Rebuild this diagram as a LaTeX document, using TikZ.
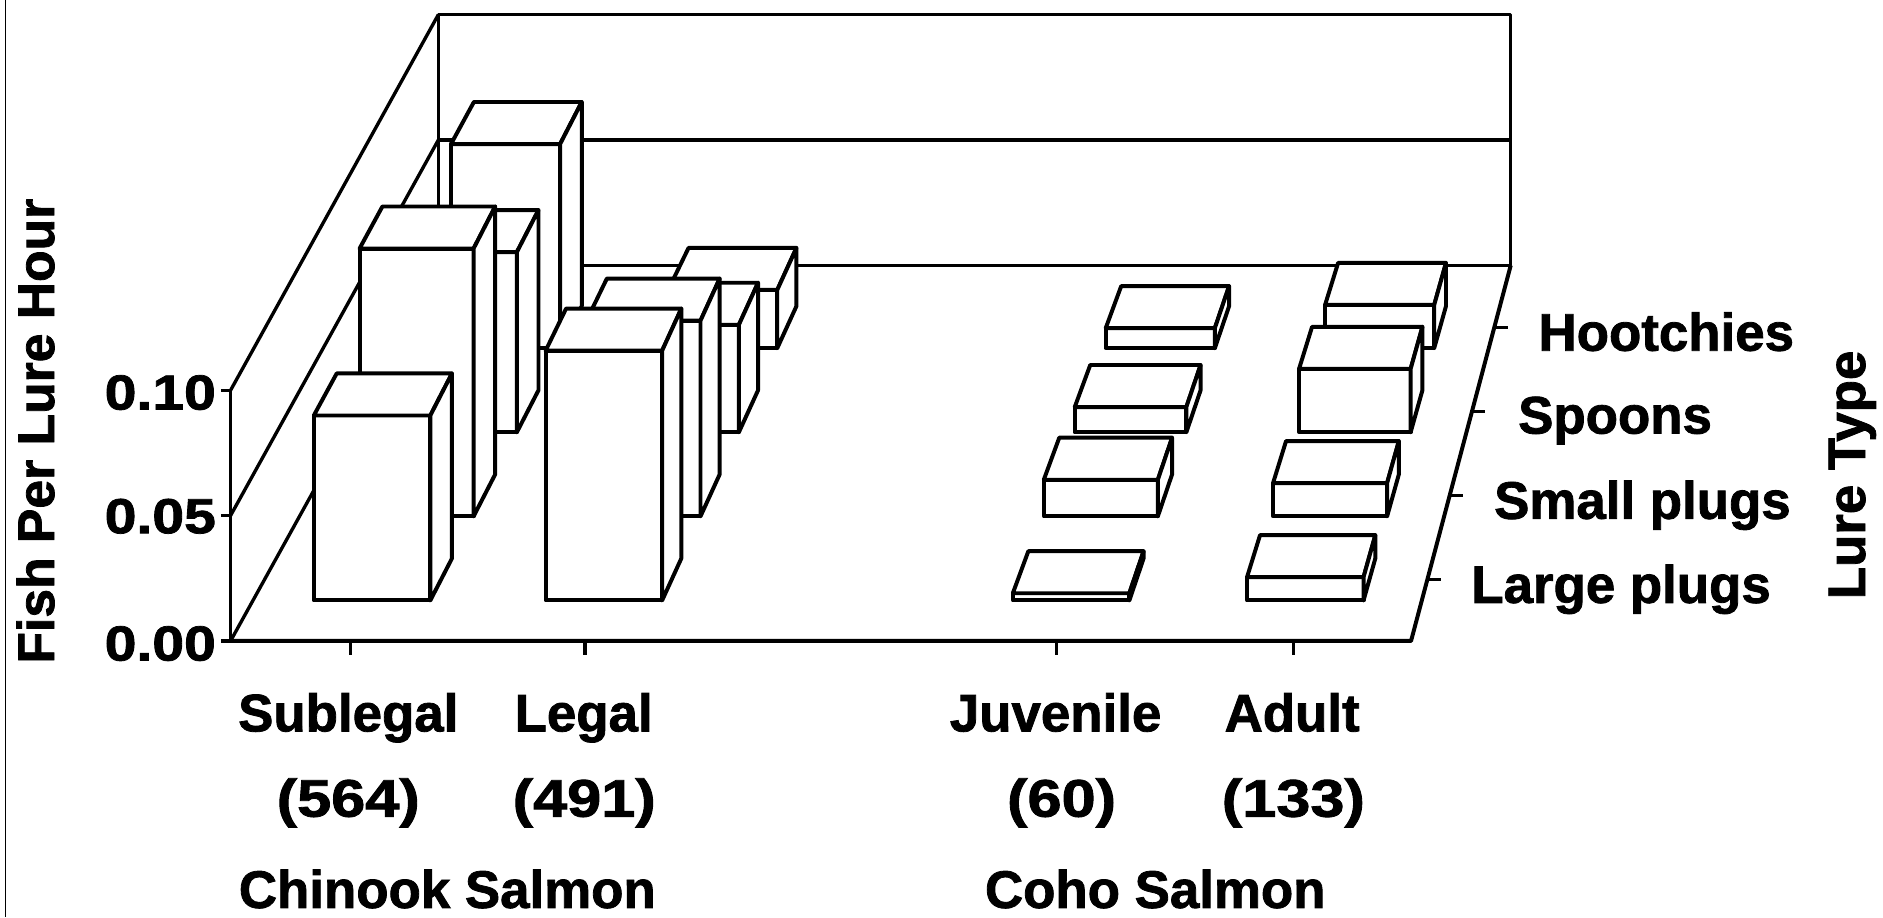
\documentclass[tikz,border=0pt]{standalone}
\usepackage{fontspec}
\setmainfont{Liberation Sans}
\newfontfamily\lblfont{Liberation Sans Bold}[FakeBold=1.5]
\newcommand\drawbox[3]{%
 \pgfmathsetmacro\bxdf{0.1078+0.2239*#2}%
 \pgfmathsetmacro\bxdb{\bxdf+0.112}%
 \pgfmathsetmacro\bxff{1-0.0934*\bxdf}%
 \pgfmathsetmacro\bxfb{1-0.0934*\bxdb}%
 \pgfmathsetmacro\bxfl{2063.7+(#1-49-2063.7)*\bxff}%
 \pgfmathsetmacro\bxfr{2063.7+(#1+49-2063.7)*\bxff}%
 \pgfmathsetmacro\bxbl{2063.7+(#1-49-2063.7)*\bxfb}%
 \pgfmathsetmacro\bxbr{2063.7+(#1+49-2063.7)*\bxfb}%
 \pgfmathsetmacro\bxyf{533.7-312.7*\bxdf}%
 \pgfmathsetmacro\bxyb{533.7-312.7*\bxdb}%
 \pgfmathsetmacro\bxtf{\bxyf-#3}%
 \pgfmathsetmacro\bxtb{\bxyb-#3}%
 \draw[boxline] (\bxfl,\bxyf) rectangle (\bxfr,\bxtf);
 \draw[boxline] (\bxfl,\bxtf) -- (\bxbl,\bxtb) -- (\bxbr,\bxtb) -- (\bxfr,\bxtf) -- cycle;
 \draw[boxline] (\bxfr,\bxyf) -- (\bxbr,\bxyb) -- (\bxbr,\bxtb) -- (\bxfr,\bxtf) -- cycle;
}
\begin{document}
\begin{tikzpicture}[x=1pt,y=-1pt,
  wall/.style={line width=2.8pt, line join=round},
  boxline/.style={line width=3.3pt, fill=white, line join=round},
  lbl/.style={font=\fontsize{44}{50}\selectfont\lblfont, inner sep=0pt},
  numlbl/.style={lbl, xscale=1.16},
  axlbl/.style={font=\fontsize{41}{46}\selectfont\lblfont, inner sep=0pt, xscale=1.16, anchor=base east}]
\useasboundingbox (0,0) rectangle (1568,764);
\fill[white] (0,0) rectangle (1568,764);
\draw[line width=1.4pt] (4.5,0) -- (4.5,764);
% left wall grid
\draw[wall] (192,533.7) -- (365,221);
\draw[wall] (192,429.3) -- (365,116.6);
\draw[wall] (192,325) -- (365,12.2);
% back wall
\draw[wall] (365,12.2) -- (1258,12.2) -- (1258,221) -- (365,221) -- cycle;
\draw[wall] (365,116.6) -- (1258,116.6);
% floor and axis
\draw[wall] (192,325) -- (192,533.7);
\draw[wall, line width=3.3pt] (192,533.7) -- (1175,533.7) -- (1258,221);
\foreach \yy in {533.7,429.3,325} \draw[wall] (184,\yy) -- (192,\yy);
\foreach \xx in {292,487,880,1077} \draw[wall] (\xx,533.7) -- (\xx,545);
\foreach \dd in {0.1638,0.3877,0.6116,0.8355}
  \draw[wall] ({1175+83*\dd},{533.7-312.7*\dd}) -- ({1175+83*\dd+11},{533.7-312.7*\dd});
% boxes, back to front
\drawbox{292}{3}{170}
\drawbox{487}{3}{48.5}
\drawbox{880}{3}{16.7}
\drawbox{1077}{3}{36}
\drawbox{292}{2}{150}
\drawbox{487}{2}{89.5}
\drawbox{880}{2}{21}
\drawbox{1077}{2}{52.8}
\drawbox{292}{1}{223}
\drawbox{487}{1}{163}
\drawbox{880}{1}{30.5}
\drawbox{1077}{1}{27.7}
\drawbox{292}{0}{154}
\drawbox{487}{0}{208}
\drawbox{880}{0}{6}
\drawbox{1077}{0}{19.4}
% axis labels
\node[axlbl] (t10) at (180,341) {0.10};
\node[axlbl] (t05) at (180,444) {0.05};
\node[axlbl] (t00) at (180,550) {0.00};
\node[lbl, rotate=90, anchor=base, font=\fontsize{43}{48}\selectfont\lblfont] (ylab) at (45,359) {Fish Per Lure Hour};
\node[lbl, rotate=90, anchor=base] (zlab) at (1553,395.5) {Lure Type};
% lure labels
\node[lbl, anchor=base west] (hoo) at (1281,292) {Hootchies};
\node[lbl, anchor=base west] (spo) at (1264,361) {Spoons};
\node[lbl, anchor=base west] (smp) at (1244,432) {Small plugs};
\node[lbl, anchor=base west] (lgp) at (1225,502) {Large plugs};
% category labels
\node[lbl, anchor=base] (sub) at (290,609) {Sublegal};
\node[lbl, anchor=base] (leg) at (486,609) {Legal};
\node[lbl, anchor=base] (juv) at (879,609) {Juvenile};
\node[lbl, anchor=base] (adu) at (1076,609) {Adult};
\node[numlbl, anchor=base] (n1) at (290,680) {(564)};
\node[numlbl, anchor=base] (n2) at (486.5,680) {(491)};
\node[numlbl, anchor=base] (n3) at (884,680) {(60)};
\node[numlbl, anchor=base] (n4) at (1077,680) {(133)};
\node[lbl, anchor=base] (chi) at (372.5,756) {Chinook Salmon};
\node[lbl, anchor=base] (coh) at (962,756) {Coho Salmon};
\end{tikzpicture}
\end{document}
